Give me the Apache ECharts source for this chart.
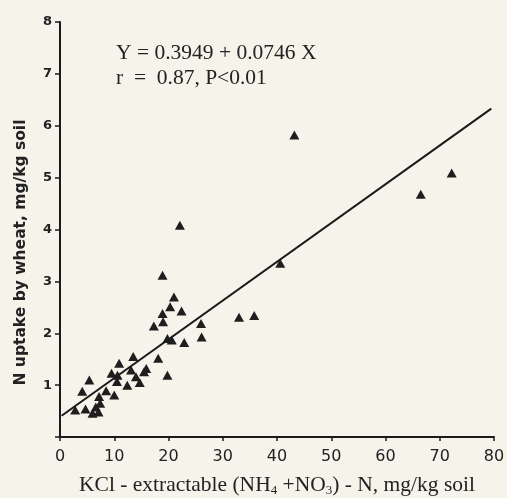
<!DOCTYPE html>
<html>
<head>
<meta charset="utf-8">
<script src="https://cdn.jsdelivr.net/npm/echarts@6/dist/echarts.min.js"></script>
<style>
html,body{margin:0;padding:0;background:#f5f3ea;}
#c{width:507px;height:498px;}
</style>
</head>
<body>
<div id="c"></div>
<script>
// KCl-extractable (NH4+NO3)-N, mg/kg soil
var nSoil = [2.8, 4.1, 5.4, 4.7, 6.0, 7.1, 7.4, 7.2, 6.6, 8.5, 10.0, 9.5, 10.5, 10.9, 10.6, 12.4, 13.1, 13.5, 14.0, 14.7, 15.5, 15.9, 18.1, 19.8, 17.3, 18.9, 19.0, 18.9, 20.3, 21.0, 22.4, 19.8, 20.6, 22.9, 26.0, 26.1, 33.0, 35.8, 22.1, 40.6, 43.2, 66.5, 72.2];
// N uptake by wheat, mg/kg soil
var nUptake = [0.52, 0.88, 1.10, 0.54, 0.46, 0.48, 0.65, 0.78, 0.58, 0.89, 0.81, 1.23, 1.07, 1.42, 1.19, 1.00, 1.29, 1.55, 1.16, 1.05, 1.26, 1.32, 1.52, 1.19, 2.14, 2.38, 2.22, 3.12, 2.51, 2.70, 2.43, 1.90, 1.87, 1.82, 2.19, 1.93, 2.31, 2.34, 4.08, 3.35, 5.82, 4.68, 5.09];
// regression line end points
var lineX = [0.3, 79.5];
var lineY = [0.41, 6.33];
var xTicks = [0, 10, 20, 30, 40, 50, 60, 70, 80];
var yTicks = [0, 1, 2, 3, 4, 5, 6, 7, 8];
var eqText = ['Y = 0.3949 + 0.0746 X', 'r  =  0.87, P<0.01'];

var pts = nSoil.map(function (x, i) { return [x, nUptake[i]]; });
var linePts = lineX.map(function (x, i) { return [x, lineY[i]]; });

var chart = echarts.init(document.getElementById('c'));
chart.setOption({
  backgroundColor: '#f5f3ea',
  animation: false,
  grid: { left: 60, right: 13, top: 22, bottom: 61, containLabel: false, outerBoundsMode: 'none' },
  xAxis: {
    type: 'value', min: xTicks[0], max: xTicks[xTicks.length - 1], interval: 10,
    axisLine: { lineStyle: { color: '#1a1a1a', width: 2 } },
    axisTick: { length: 4, lineStyle: { color: '#1a1a1a', width: 1.5 } },
    splitLine: { show: false },
    axisLabel: { margin: 12, fontFamily: 'DejaVu Sans', fontSize: 16, color: '#222' },
    name: 'KCl - extractable (NH{sub|4} +NO{sub|3}) - N, mg/kg soil',
    nameLocation: 'middle', nameGap: 37,
    nameTextStyle: {
      fontFamily: 'Liberation Serif', fontSize: 21.5, color: '#222', lineHeight: 23,
      rich: { sub: { fontFamily: 'Liberation Serif', fontSize: 13, lineHeight: 13, verticalAlign: 'bottom', color: '#222' } }
    }
  },
  yAxis: {
    type: 'value', min: yTicks[0], max: yTicks[yTicks.length - 1], interval: 1,
    axisLine: { show: true, lineStyle: { color: '#1a1a1a', width: 2 } },
    axisTick: { show: true, length: 5, lineStyle: { color: '#1a1a1a', width: 1.5 } },
    splitLine: { show: false },
    axisLabel: {
      margin: 8, fontFamily: 'DejaVu Sans', fontWeight: 'bold', fontSize: 13, color: '#222',
      formatter: function (v) { return v === 0 ? '' : String(v); }
    },
    name: 'N uptake by wheat, mg/kg soil',
    nameLocation: 'middle', nameGap: 31,
    nameTextStyle: { fontFamily: 'DejaVu Sans', fontWeight: 'bold', fontSize: 15.5, color: '#222', padding: [0, 46, 0, 0] }
  },
  graphic: [{
    type: 'text', left: 116, top: 41,
    style: { text: eqText.join('\n'), font: '21.5px "Liberation Serif"', fill: '#222', lineHeight: 25 }
  }],
  series: [{
    type: 'line', data: linePts, symbol: 'none',
    lineStyle: { color: '#1a1a1a', width: 2 }, z: 2
  }, {
    type: 'scatter', data: pts, symbol: 'triangle', symbolSize: [10, 9],
    itemStyle: { color: '#1e1e1e', opacity: 1 }, z: 3
  }]
});
</script>
</body>
</html>
